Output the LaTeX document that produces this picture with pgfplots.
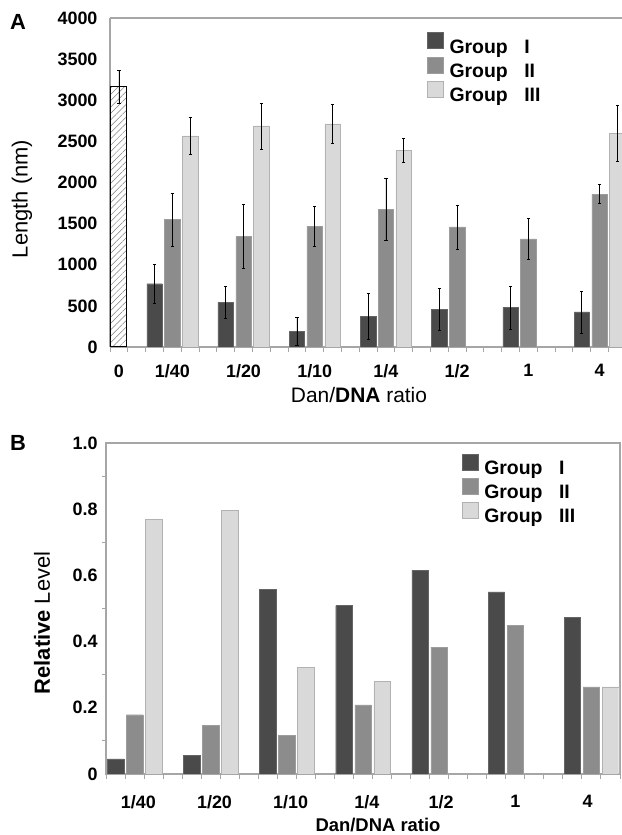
\documentclass[border=0pt]{standalone}
\usepackage{pgfplots}
\pgfplotsset{compat=1.18}
\usepackage{pgfplotstable}
\usepackage{fontspec}
\setmainfont{Liberation Sans}
\usetikzlibrary{patterns.meta}
\definecolor{gI}{HTML}{4A4A4A}
\definecolor{gII}{HTML}{8C8C8C}
\definecolor{gIII}{HTML}{D9D9D9}
\definecolor{axgray}{HTML}{A6A6A6}

% Panel A: x = slot position, y = length (nm), e = error
\pgfplotstableread{
x y e
0.5 3166 200
}\Azero
\pgfplotstableread{
x y e
2.5 769 233
6.5 541 196
10.5 190 174
14.5 372 279
18.5 455 255
22.5 479 258
26.5 426 256
}\AI
\pgfplotstableread{
x y e
3.5 1550 320
7.5 1343 392
11.5 1467 238
15.5 1674 382
19.5 1459 266
23.5 1314 248
27.5 1860 118
}\AII
\pgfplotstableread{
x y e
4.5 2566 223
8.5 2688 280
12.5 2712 241
16.5 2388 146
28.5 2598 335
}\AIII
% Panel B: relative level
\pgfplotstableread{
x y
0.5 0.046
4.5 0.056
8.5 0.558
12.5 0.509
16.5 0.616
20.5 0.550
24.5 0.473
}\BI
\pgfplotstableread{
x y
1.5 0.179
5.5 0.146
9.5 0.117
13.5 0.209
17.5 0.383
21.5 0.450
25.5 0.263
}\BII
\pgfplotstableread{
x y
2.5 0.770
6.5 0.797
10.5 0.323
14.5 0.280
26.5 0.263
}\BIII

\tikzset{tickfont/.style={font=\bfseries\fontsize{18}{18}\selectfont}}
\pgfplotsset{
  boxlegend/.style={legend image code/.code={\draw[##1] (0bp,-1.5bp) rectangle (16bp,14.5bp);}},
  errstyle/.style={error bars/.cd, y dir=both, y explicit,
     error bar style={black, line width=0.6bp},
     error mark options={rotate=90, mark size=1.6bp, black, line width=0.6bp}},
}

\begin{document}
\begin{tikzpicture}
\path[use as bounding box] (0,0) rectangle (622bp,835bp);

% ---------------- Panel A ----------------
\begin{axis}[
  scale only axis, width=512bp, height=329bp,
  at={(110bp,488bp)}, anchor=south west,
  xmin=0, xmax=28.76, ymin=0, ymax=4000,
  axis x line*=box, axis y line*=left,
  axis line style={axgray, line width=1.2bp},
  xtick={0,1,...,28}, xticklabels={},
  xtick pos=left, tick align=outside,
  major tick length=5bp,
  x tick style={axgray, line width=1bp},
  ytick={0,500,...,4000},
  y tick style={draw=none}, ytick pos=left,
  /pgf/number format/assume math mode=true,
  /pgf/number format/1000 sep={},
  yticklabel style={tickfont, xshift=-4bp},
  extra x ticks={0.5,3.5,7.5,11.5,15.5,19.5,23.5,27.5},
  extra x tick labels={0,1/40,1/20,1/10,1/4,1/2,1,4},
  extra x tick style={major tick length=0pt, xticklabel style={tickfont, yshift=-14bp}},
  legend style={draw=none, fill=none, inner sep=0pt, at={(0.619,0.957)}, anchor=north west,
     font=\bfseries\fontsize{19.5}{21}\selectfont, row sep=0bp, cells={anchor=west},
     /tikz/every odd column/.style={column sep=4bp}},
  boxlegend,
]
\addplot[ybar, bar width=16bp, bar shift=0pt, draw=black, line width=1bp,
  pattern={Lines[angle=45, distance=4.5bp, line width=0.5bp]}, pattern color=gray,
  forget plot, errstyle] table[x=x, y=y, y error=e] {\Azero};
\addplot[ybar, bar width=15.5bp, bar shift=0pt, fill=gI, draw=gI!85!white, errstyle]
  table[x=x, y=y, y error=e] {\AI};
\addplot[ybar, bar width=15.5bp, bar shift=0pt, fill=gII, draw=gII!85!white, errstyle]
  table[x=x, y=y, y error=e] {\AII};
\addplot[ybar, bar width=15.5bp, bar shift=0pt, fill=gIII, draw=black!30, errstyle]
  table[x=x, y=y, y error=e] {\AIII};
\legend{Group\hspace{0.85em}I, Group\hspace{0.85em}II, Group\hspace{0.85em}III}
\end{axis}

% ---------------- Panel B ----------------
\begin{axis}[
  scale only axis, width=514bp, height=331bp,
  at={(106bp,61bp)}, anchor=south west,
  xmin=0, xmax=27, ymin=0, ymax=1,
  axis line style={axgray, line width=1.2bp},
  xtick={0,1,...,27}, xticklabels={},
  xtick pos=left, ytick pos=left, tick align=outside,
  major tick length=5bp, minor tick length=4bp,
  x tick style={axgray, line width=1bp},
  ytick={0,0.2,0.4,0.6,0.8,1},
  yticklabels={0,0.2,0.4,0.6,0.8,1.0},
  minor ytick={0.1,0.3,0.5,0.7,0.9},
  major y tick style={draw=none},
  minor y tick style={axgray, line width=1bp},
  yticklabel style={tickfont, xshift=0bp},
  extra x ticks={1.7,5.7,9.7,13.7,17.6,21.5,25.3},
  extra x tick labels={1/40,1/20,1/10,1/4,1/2,1,4},
  extra x tick style={major tick length=0pt, xticklabel style={tickfont, yshift=-18bp}},
  legend style={draw=none, fill=none, inner sep=0pt, at={(0.692,0.968)}, anchor=north west,
     font=\bfseries\fontsize{19.5}{21}\selectfont, row sep=0bp, cells={anchor=west},
     /tikz/every odd column/.style={column sep=4bp}},
  boxlegend,
]
\addplot[ybar, bar width=16.5bp, bar shift=0pt, fill=gI, draw=gI!85!white] table[x=x, y=y] {\BI};
\addplot[ybar, bar width=16.5bp, bar shift=0pt, fill=gII, draw=gII!85!white] table[x=x, y=y] {\BII};
\addplot[ybar, bar width=16.5bp, bar shift=0pt, fill=gIII, draw=black!30] table[x=x, y=y] {\BIII};
\legend{Group\hspace{0.85em}I, Group\hspace{0.85em}II, Group\hspace{0.85em}III}
\end{axis}

% ---------------- Labels ----------------
\node[font=\bfseries\fontsize{22}{22}\selectfont] at (18bp,813bp) {A};
\node[font=\bfseries\fontsize{22}{22}\selectfont] at (18bp,392bp) {B};
\node[rotate=90, font=\fontsize{22}{22}\selectfont] at (22bp,636bp) {Length (nm)};
\node[font=\fontsize{21}{21}\selectfont] at (359bp,440bp) {Dan/\textbf{DNA} ratio};
\node[rotate=90, font=\fontsize{22}{22}\selectfont] at (42bp,212bp) {\textbf{Relative} Level};
\node[font=\bfseries\fontsize{18.5}{18.5}\selectfont] at (378bp,10bp) {Dan/DNA ratio};
\end{tikzpicture}
\end{document}
